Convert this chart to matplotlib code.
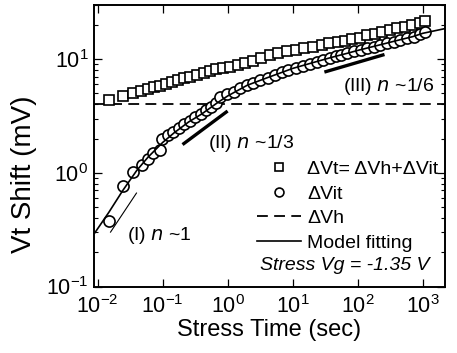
import numpy as np
import matplotlib.pyplot as plt

plt.rcParams['font.family'] = ['Liberation Sans', 'DejaVu Sans']
plt.rcParams['mathtext.default'] = 'regular'

# dVt = dVh + dVit (squares)
t_vt = [0.0149, 0.0244, 0.0347, 0.0468, 0.059, 0.0748, 0.0925, 0.114, 0.140, 0.171,
        0.216, 0.267, 0.338, 0.427, 0.541, 0.668, 0.848, 1.10, 1.42, 1.86, 2.44,
        3.24, 4.50, 6.04, 8.29, 11.3, 15.1, 20.3, 27.9, 36.6, 49.2, 63.7, 83, 108,
        141, 184, 239, 312, 406, 530, 690, 900, 1100]
vt = [4.38, 4.75, 5.08, 5.29, 5.51, 5.66, 5.82, 6.06, 6.35, 6.57,
      6.89, 7.03, 7.27, 7.62, 7.89, 8.2, 8.45, 8.60, 8.91, 9.22, 9.66,
      10.3, 10.9, 11.3, 11.7, 12.1, 12.5, 12.9, 13.4, 13.8, 14.3, 14.6, 15.0, 15.5,
      16.2, 16.8, 17.4, 17.9, 18.7, 19.4, 20.0, 20.8, 21.9]

# dVit (circles)
t_vit = [0.0149, 0.0244, 0.0347, 0.0485, 0.059, 0.0714, 0.0904, 0.098, 0.120, 0.145,
         0.177, 0.211, 0.261, 0.318, 0.389, 0.470, 0.555, 0.668, 0.771, 0.975, 1.23,
         1.56, 1.98, 2.49, 3.16, 4.24, 5.37, 6.81, 8.59, 11.3, 14.6, 18.5, 23.4, 29.6,
         37.5, 46.3, 54.7, 69.0, 87.5, 111, 140, 177, 224, 283, 359, 455, 574, 728,
         900, 1100]
vit = [0.378, 0.765, 1.02, 1.17, 1.32, 1.49, 1.59, 1.97, 2.15, 2.30,
       2.47, 2.69, 2.88, 3.12, 3.30, 3.58, 3.78, 4.10, 4.63, 4.92, 5.18,
       5.55, 5.94, 6.22, 6.57, 6.80, 7.27, 7.68, 8.05, 8.44, 8.73, 9.10, 9.41, 9.86,
       10.2, 10.7, 10.9, 11.3, 11.7, 12.1, 12.5, 12.9, 13.4, 13.8, 14.3, 14.8, 15.3, 15.8,
       16.6, 17.5]

# model fitting curve
t_fit = [0.009, 0.0149, 0.0244, 0.04, 0.06, 0.1, 0.15, 0.25, 0.4, 0.7, 1, 2, 4, 7,
         10, 20, 40, 70, 100, 200, 400, 700, 1000, 2200]
v_fit = [0.295, 0.45, 0.70, 1.05, 1.38, 1.85, 2.25, 2.8, 3.3, 4.15, 4.75, 5.9, 6.85, 7.7,
         8.3, 9.3, 10.4, 11.3, 11.95, 13.2, 14.6, 15.8, 16.9, 18.6]

vh = 4.0  # dVh level

# slope guide segments
t_n1, v_n1 = [0.0158, 0.0396], [0.301, 0.664]
t_n13, v_n13 = [0.212, 0.952], [1.81, 3.43]
t_n16, v_n16 = [32.5, 244], [7.78, 10.9]

xticks = [1e-2, 1e-1, 1e0, 1e1, 1e2, 1e3]
yticks = [1e-1, 1e0, 1e1]

fig = plt.figure(figsize=(4.57, 3.53), dpi=100)
ax = fig.add_axes([94 / 457, 66.5 / 353, 351 / 457, 281.5 / 353])

ax.plot(t_vt, vt, 's', ms=7.5, mfc='white', mec='black', mew=1.2,
        label='ΔVt= ΔVh+ΔVit', zorder=3)
ax.plot(t_vit, vit, 'o', ms=8, mfc='white', mec='black', mew=1.2,
        label='ΔVit', zorder=3)
ax.axhline(vh, color='black', lw=1.3, ls=(0, (6, 3.5)), label='ΔVh')
ax.plot(t_fit, v_fit, '-', color='black', lw=1.2, label='Model fitting', zorder=4)

ax.plot(t_n1, v_n1, '-', color='black', lw=0.8)
ax.plot(t_n13, v_n13, '-', color='black', lw=2.4)
ax.plot(t_n16, v_n16, '-', color='black', lw=2.4)

ax.text(0.0288, 0.283, '(I) $\\mathit{n}$ ~1', fontsize=14, va='center', ha='left')
ax.text(0.50, 1.83, '(II) $\\mathit{n}$ ~1/3', fontsize=14, va='center', ha='left')
ax.text(59, 5.7, '(III) $\\mathit{n}$ ~1/6', fontsize=14, va='center', ha='left')
ax.text(0.473, 0.076, 'Stress Vg = -1.35 V', fontsize=14, style='italic',
        transform=ax.transAxes, va='center', ha='left')

ax.set_xscale('log')
ax.set_yscale('log')
ax.set_xticks(xticks)
ax.set_yticks(yticks)
ax.set_xlim(0.0088, 2200)
ax.set_ylim(0.1, 30)

ax.set_xlabel('Stress Time (sec)', fontsize=17, labelpad=1)
ax.set_ylabel('Vt Shift (mV)', fontsize=20)
ax.yaxis.set_label_coords(-0.162, 0.398)

ax.tick_params(which='both', direction='in', top=True, right=True, labelsize=15.5)
ax.tick_params(which='major', length=5.5, width=0.9)
ax.tick_params(axis='x', which='major', pad=6)
ax.tick_params(axis='y', which='major', pad=4)
ax.tick_params(which='minor', length=3, width=0.8)
for s in ax.spines.values():
    s.set_linewidth(1.4)

ax.legend(loc='lower right', bbox_to_anchor=(1.02, 0.075), frameon=False, fontsize=14,
          handlelength=2.26, handletextpad=0.3, labelspacing=0.36, borderpad=0.2,
          markerscale=0.8)

fig.savefig('out.png', dpi=100)
